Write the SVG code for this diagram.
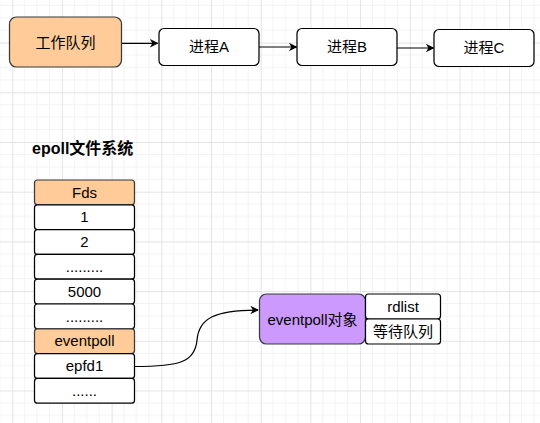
<svg xmlns="http://www.w3.org/2000/svg" width="540" height="423" viewBox="0 0 540 423">
<style>
.t{font-family:"Liberation Sans",Arial,"Noto Sans CJK SC",sans-serif;font-size:15px;fill:#000;text-anchor:middle}
.b{font-family:"Liberation Sans",Arial,"Noto Sans CJK SC",sans-serif;font-size:16px;font-weight:bold;fill:#000}
.w{fill:#fff;stroke:#000;stroke-width:1.24}
.o{fill:#ffcc99;stroke:#36393d;stroke-width:1.24}
.p{fill:#cc99ff;stroke:#36393d;stroke-width:1.24}
.e{fill:none;stroke:#000;stroke-width:1.24}
</style>
<defs>
<pattern id="g" patternUnits="userSpaceOnUse" x="12.2" y="42.6" width="49.7" height="49.7">
<path d="M12.42,0V49.7M24.85,0V49.7M37.27,0V49.7M0,12.42H49.7M0,24.85H49.7M0,37.27H49.7" stroke="#f3f3f3" stroke-width="1" fill="none"/>
<path d="M0.5,0V49.7M0,0.5H49.7" stroke="#e4e4e4" stroke-width="1" fill="none"/>
</pattern>
<marker id="a" viewBox="0 0 10 10" refX="9" refY="5" markerWidth="8.5" markerHeight="8.5" markerUnits="userSpaceOnUse" orient="auto">
<path d="M0,0L10,5L0,10L3,5Z" fill="#000"/>
</marker>
</defs>
<rect width="540" height="423" fill="#fff"/>
<rect width="540" height="423" fill="url(#g)"/>
<g id="connectors">
<path class="e" d="M121.5,43.3H157.5" marker-end="url(#a)"/>
<path class="e" d="M259,47H296.5" marker-end="url(#a)"/>
<path class="e" d="M397,48H433.5" marker-end="url(#a)"/>
<path class="e" d="M134.5,366.5C180,366.5 195,362 197,340C199,318 215,310 258,310" marker-end="url(#a)"/>
</g>
<g id="work-queue"><rect class="o" x="9.5" y="17" width="112" height="50" rx="7"/><text class="t" x="65.5" y="47.5">工作队列</text></g>
<g id="proc-a"><rect class="w" x="159" y="28.5" width="100" height="37" rx="5"/><text class="t" x="209" y="52">进程A</text></g>
<g id="proc-b"><rect class="w" x="297" y="28.5" width="100" height="37" rx="5"/><text class="t" x="347" y="52">进程B</text></g>
<g id="proc-c"><rect class="w" x="434" y="29.5" width="100" height="37" rx="5"/><text class="t" x="484" y="53">进程C</text></g>
<g id="title"><text class="b" x="32" y="154">epoll文件系统</text></g>
<g id="fds"><rect class="o" x="34.5" y="180" width="100" height="24.8" rx="3"/><text class="t" x="84.5" y="197.5">Fds</text></g>
<g id="fd-1"><rect class="w" x="34.5" y="204.8" width="100" height="24.8" rx="3"/><text class="t" x="84.5" y="222.3">1</text></g>
<g id="fd-2"><rect class="w" x="34.5" y="229.6" width="100" height="24.8" rx="3"/><text class="t" x="84.5" y="247.1">2</text></g>
<g id="fd-dots1"><rect class="w" x="34.5" y="254.4" width="100" height="24.8" rx="3"/><text class="t" x="84.5" y="271.9">.........</text></g>
<g id="fd-5000"><rect class="w" x="34.5" y="279.2" width="100" height="24.8" rx="3"/><text class="t" x="84.5" y="296.7">5000</text></g>
<g id="fd-dots2"><rect class="w" x="34.5" y="304" width="100" height="24.8" rx="3"/><text class="t" x="84.5" y="321.5">.........</text></g>
<g id="fd-eventpoll"><rect class="o" x="34.5" y="328.8" width="100" height="24.8" rx="3"/><text class="t" x="84.5" y="346.3">eventpoll</text></g>
<g id="fd-epfd1"><rect class="w" x="34.5" y="353.6" width="100" height="24.8" rx="3"/><text class="t" x="84.5" y="371.1">epfd1</text></g>
<g id="fd-dots3"><rect class="w" x="34.5" y="378.4" width="100" height="24.8" rx="3"/><text class="t" x="84.5" y="395.9">......</text></g>
<g id="eventpoll-obj"><rect class="p" x="259.5" y="294" width="106" height="50" rx="7"/><text class="t" x="312.5" y="324.5">eventpoll对象</text></g>
<g id="rdlist"><rect class="w" x="365.5" y="294" width="75" height="25" rx="3"/><text class="t" x="403" y="311.5">rdlist</text></g>
<g id="wait-queue"><rect class="w" x="365.5" y="319" width="75" height="25" rx="3"/><text class="t" x="403" y="336.5">等待队列</text></g>
</svg>
